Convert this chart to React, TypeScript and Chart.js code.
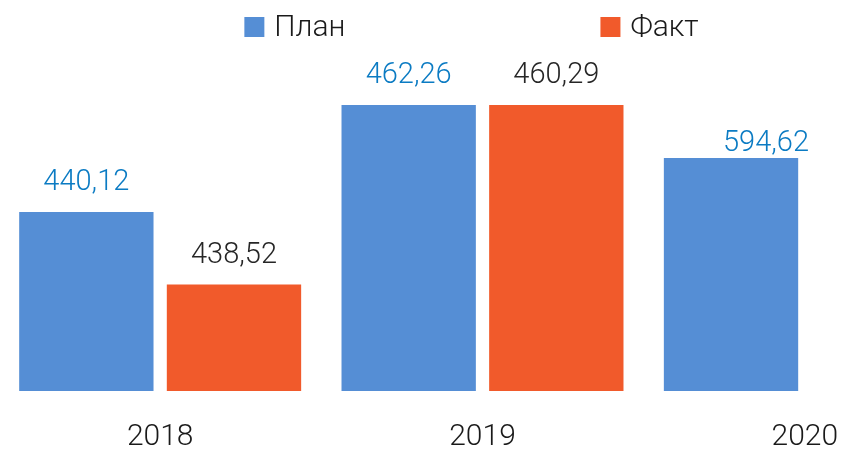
import React, { useEffect, useRef } from "react";
import { Chart, registerables } from "chart.js";

Chart.register(...registerables);

const categories = ["2018", "2019", "2020"];
const seriesNames = ["План", "Факт"];
// Bar heights as drawn in the picture (relative units)
const planHeights = [179, 286, 233];
const factHeights = [106.5, 286, null];
// Value labels printed above the bars
const planLabels = ["440,12", "462,26", "594,62"];
const factLabels = ["438,52", "460,29", ""];

const BLUE = "#558ED5";
const ORANGE = "#F15A2B";
const LABEL_BLUE = "#0B7BC3";
const LABEL_DARK = "#262626";
const FONT = "Roboto, 'Open Sans', sans-serif";

const legendPlugin = {
  id: "customLegend",
  afterDraw(chart: any) {
    const ctx = chart.ctx;
    ctx.save();
    ctx.font = `300 30px ${FONT}`;
    ctx.textBaseline = "middle";
    ctx.textAlign = "left";
    const ds = chart.data.datasets;
    const box = 20;
    const gapText = 10;
    const gapItems = 255;
    const widths = ds.map((d: any) => ctx.measureText(d.label).width);
    let total = 0;
    widths.forEach((w: number, i: number) => {
      total += box + gapText + w + (i < widths.length - 1 ? gapItems : 0);
    });
    let x = chart.width / 2 - 11 - total / 2;
    const cy = 27;
    ds.forEach((d: any, i: number) => {
      ctx.fillStyle = d.backgroundColor;
      ctx.fillRect(x, cy - box / 2, box, box);
      ctx.fillStyle = "#1a1a1a";
      ctx.fillText(d.label, x + box + gapText, cy + 1);
      x += box + gapText + widths[i] + gapItems;
    });
    ctx.restore();
  },
};

const valueLabelPlugin = {
  id: "valueLabels",
  afterDatasetsDraw(chart: any) {
    const ctx = chart.ctx;
    ctx.save();
    ctx.font = `300 29px ${FONT}`;
    ctx.textAlign = "center";
    ctx.textBaseline = "middle";
    chart.data.datasets.forEach((d: any, di: number) => {
      const meta = chart.getDatasetMeta(di);
      const labels: string[] = d.valueLabels;
      meta.data.forEach((el: any, i: number) => {
        const text = labels[i];
        if (!text || d.data[i] == null) return;
        const shift = (d.labelShift && d.labelShift[i]) || { dx: 0, dy: -29 };
        ctx.fillStyle = d.labelColor;
        ctx.fillText(text, el.x + shift.dx, el.y + shift.dy);
      });
    });
    ctx.restore();
  },
};

export default function App() {
  const canvasRef = useRef<HTMLCanvasElement | null>(null);

  useEffect(() => {
    if (!canvasRef.current) return;
    const chart = new Chart(canvasRef.current, {
      type: "bar",
      data: {
        labels: categories,
        datasets: [
          {
            label: seriesNames[0],
            data: planHeights,
            backgroundColor: BLUE,
            borderWidth: 0,
            categoryPercentage: 0.916,
            barPercentage: 0.91,
            valueLabels: planLabels,
            labelColor: LABEL_BLUE,
            labelShift: [null, null, { dx: 35, dy: -14 }],
          } as any,
          {
            label: seriesNames[1],
            data: factHeights,
            backgroundColor: ORANGE,
            borderWidth: 0,
            categoryPercentage: 0.916,
            barPercentage: 0.91,
            valueLabels: factLabels,
            labelColor: LABEL_DARK,
          } as any,
        ],
      },
      options: {
        animation: false,
        responsive: true,
        maintainAspectRatio: false,
        layout: { padding: { top: 60, left: 0, right: 0, bottom: 0 } },
        plugins: {
          legend: { display: false },
          tooltip: { enabled: false },
        },
        scales: {
          x: {
            grid: { display: false, drawTicks: false },
            border: { display: false },
            afterFit: (axis: any) => {
              axis.height = 64;
            },
            ticks: {
              color: "#1a1a1a",
              padding: 28,
              font: { family: FONT, size: 30, weight: 300 as any },
            },
          },
          y: {
            display: false,
            min: 0,
            max: 331,
          },
        },
      },
      plugins: [legendPlugin, valueLabelPlugin],
    });
    return () => chart.destroy();
  }, []);

  return (
    <div
      style={{
        position: "fixed",
        left: 0,
        top: 0,
        width: 847,
        height: 455,
        overflow: "hidden",
        background: "#ffffff",
      }}
    >
      <div style={{ position: "absolute", left: -1, top: 0, width: 967, height: 455 }}>
        <canvas ref={canvasRef} />
      </div>
    </div>
  );
}
